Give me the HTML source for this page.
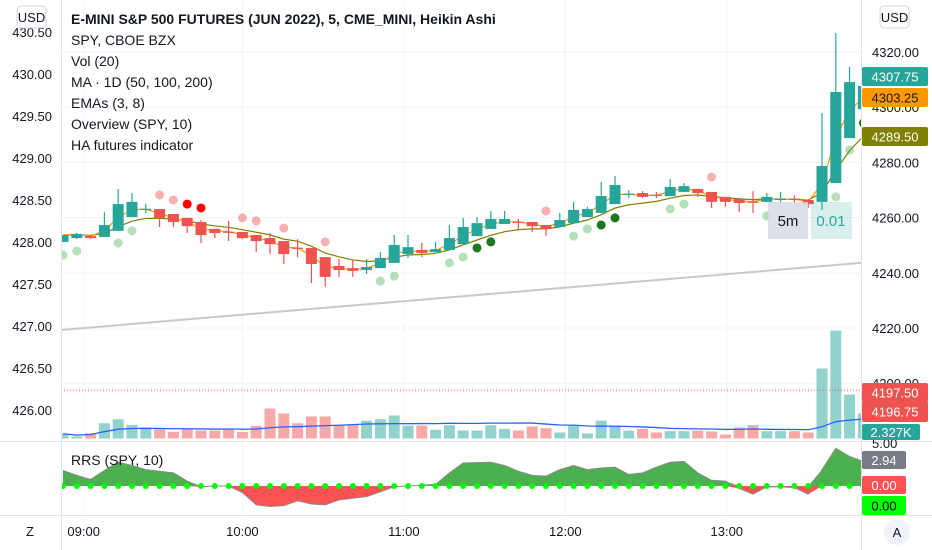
<!DOCTYPE html>
<html><head><meta charset="utf-8"><style>
html,body{margin:0;padding:0;background:#fff;width:932px;height:550px;overflow:hidden}
svg{display:block;font-family:"Liberation Sans",sans-serif}
</style></head><body>
<svg id="chart" width="932" height="550" viewBox="0 0 932 550">
<rect width="932" height="550" fill="#fff"/>
<g id="grid"></g>
<defs><clipPath id="mainclip"><rect x="61" y="0" width="800" height="441"/></clipPath>
<clipPath id="rrsclip"><rect x="61" y="442" width="800" height="73"/></clipPath></defs>
<g id="volume" clip-path="url(#mainclip)"></g>
<g id="main" clip-path="url(#mainclip)"></g>
<g id="rrs" clip-path="url(#rrsclip)"></g>
<g id="axes"></g>
</svg>
<script>
const closesLabelEma3 = "4303.25";
const closesLabelEma8 = "4289.50";
const opens  = [4251.2,4252.6,4253.3,4253.0,4255.2,4260.2,4263.0,4263.1,4261.3,4259.9,4258.4,4255.9,4254.9,4254.8,4253.7,4252.6,4251.5,4249.1,4249.0,4245.7,4242.5,4241.7,4241.0,4241.7,4243.6,4246.8,4248.3,4247.5,4248.3,4250.4,4253.3,4255.9,4257.7,4258.5,4258.4,4257.3,4256.6,4258.0,4260.2,4261.7,4264.9,4268.5,4268.9,4268.3,4267.8,4269.3,4270.4,4269.3,4267.5,4266.7,4265.8,4265.7,4266.6,4266.8,4266.4,4265.7,4272.5,4288.8,4299.3];
const highs  = [4253.7,4254.4,4253.7,4262.0,4270.4,4268.9,4264.9,4263.1,4261.3,4259.9,4259.1,4255.9,4258.8,4254.8,4253.7,4254.4,4251.5,4252.2,4249.0,4245.7,4245.0,4244.6,4245.0,4247.5,4253.7,4253.7,4250.8,4251.2,4257.3,4259.9,4260.2,4262.4,4262.4,4259.5,4258.4,4257.3,4261.7,4265.7,4263.9,4272.9,4275.1,4270.0,4269.6,4269.3,4274.0,4272.5,4270.4,4269.3,4267.5,4266.7,4269.6,4268.9,4269.3,4268.0,4266.4,4297.9,4326.9,4314.6,4309.0];
const lows   = [4251.2,4252.2,4252.2,4253.0,4255.2,4260.2,4261.7,4256.6,4256.6,4254.4,4250.8,4252.6,4251.5,4252.2,4247.5,4246.8,4243.2,4245.7,4236.3,4234.9,4238.5,4238.5,4239.6,4241.7,4243.6,4245.4,4245.7,4247.5,4248.3,4250.4,4253.3,4255.9,4257.7,4255.9,4254.8,4253.3,4256.6,4258.0,4260.2,4261.7,4264.9,4267.1,4267.1,4267.1,4267.8,4269.3,4267.5,4263.5,4263.9,4262.0,4261.7,4265.7,4264.9,4264.9,4263.5,4262.8,4272.5,4288.8,4299.3];
const closes = [4253.7,4254.1,4252.6,4257.3,4264.9,4265.7,4263.2,4259.9,4258.4,4256.9,4253.7,4254.4,4254.7,4252.6,4251.5,4250.4,4246.8,4248.9,4243.2,4238.5,4241.0,4240.7,4242.1,4245.4,4250.1,4249.3,4247.2,4248.6,4252.6,4256.6,4258.0,4259.5,4259.5,4258.3,4256.9,4255.9,4259.1,4262.8,4263.1,4267.8,4271.8,4268.7,4267.5,4268.1,4271.1,4271.4,4268.9,4265.7,4265.7,4265.3,4265.6,4267.5,4266.8,4266.6,4264.9,4278.7,4305.5,4309.1,4307.7];
const volumesK = [0.44,0.19,0.49,1.42,1.79,1.27,1.02,0.90,0.62,0.90,0.74,0.74,0.93,0.62,1.18,2.79,2.33,1.42,2.05,2.05,1.27,1.27,1.65,1.79,2.14,1.18,1.21,0.81,1.24,0.74,0.74,1.24,0.90,0.74,1.12,0.96,0.56,1.21,0.47,1.67,1.21,0.72,0.90,0.56,0.68,0.68,0.74,0.65,0.37,1.02,1.24,0.68,0.68,0.68,0.56,6.51,10.04,4.09,2.33];
const rrsValues = [1.9,1.3,0.8,1.9,2.9,2.5,2.0,1.8,1.6,0.6,-0.1,0,0,-0.8,-2.3,-2.5,-2.4,-1.8,-2.2,-2.3,-1.7,-1.5,-1.3,-0.7,-0.1,0,0.1,0.2,1.6,2.8,2.85,2.9,2.5,1.8,1.3,1.2,2.0,2.5,2.0,2.2,2.3,1.4,1.6,2.3,2.9,3.0,1.6,0.7,0.6,-0.3,-1.0,-0.1,-0.1,-0.2,-1.0,2.0,4.6,3.6,3.0];
const dotIdx   = [0,1,4,5,7,8,9,10,13,14,16,19,23,24,28,29,30,31,35,37,38,39,40,44,45,47,51,56,57,58];
const dotPrice = [4246.4,4247.9,4250.8,4255.2,4268.2,4266.4,4264.9,4263.5,4259.9,4258.8,4256.2,4251.2,4237.0,4238.8,4243.6,4245.7,4249.0,4251.2,4262.4,4253.3,4255.9,4257.3,4259.9,4263.1,4264.9,4274.7,4260.6,4267.5,4284.5,4294.3];
const dotType  = ["lg","lg","lg","lg","pk","pk","rd","rd","pk","pk","pk","pk","lg","lg","lg","lg","dg","dg","pk","lg","lg","dg","dg","lg","lg","pk","lg","lg","lg","dg"];
const maEnds = [4219.3, 4243.6];
const refLevel = 4197.5;
const rightTicks = [4320,4300,4280,4260,4240,4220,4200];
const leftTicks = ["430.50","430.00","429.50","429.00","428.50","428.00","427.50","427.00","426.50","426.00"];
const timeLabels = ["09:00","10:00","11:00","12:00","13:00"];
const timeIdx = [1.5,13.0,24.7,36.4,48.1];
const legendLines = ["SPY, CBOE BZX","Vol (20)","MA · 1D (50, 100, 200)","EMAs (3, 8)","Overview (SPY, 10)","HA futures indicator"];

const NS="http://www.w3.org/2000/svg";
function mk(parent,tag,attrs,text){const e=document.createElementNS(NS,tag);for(const k in attrs)e.setAttribute(k,attrs[k]);if(text!==undefined)e.textContent=text;parent.appendChild(e);return e;}
const X=j=>63+j*13.8;
const Y=p=>(4338.84-p)/0.3623;
const leftY=i=>32+i*42;
const VY=v=>438.5-v*10.75;
const RY=v=>486-v*8.2;
const G=document.getElementById('grid'),M=document.getElementById('main'),V=document.getElementById('volume'),R=document.getElementById('rrs'),A=document.getElementById('axes');

// grid
rightTicks.forEach(t=>{const l=mk(G,'line',{x1:61,x2:861,y1:Y(t),y2:Y(t),stroke:'#f0f3fa'});

});
timeIdx.forEach(j=>{const l=mk(G,'line',{x1:X(j),x2:X(j),y1:0,y2:515,stroke:'#f0f3fa'});

});

// volume
volumesK.forEach((v,j)=>{const up=closes[j]>=opens[j];const r=mk(V,'rect',{x:X(j)-5.5,y:VY(v),width:11,height:438.5-VY(v),fill:up?'#92d2cc':'#f7a9a7'});

});
let vma=[];volumesK.forEach((v,j)=>{const s=volumesK.slice(Math.max(0,j-19),j+1);vma.push(s.reduce((a,b)=>a+b,0)/s.length);});
const vl=mk(V,'polyline',{points:vma.map((v,j)=>X(j)+','+VY(v)).join(' '),fill:'none',stroke:'#2962ff','stroke-width':1.3});


const rl=mk(V,'line',{x1:61,x2:861,y1:Y(refLevel),y2:Y(refLevel),stroke:'#ef5350','stroke-dasharray':'1 2'});



// MA line
const ml=mk(M,'line',{x1:61,x2:861,y1:Y(maEnds[0]),y2:Y(maEnds[1]),stroke:'#c8c8c8','stroke-width':2});



// EMAs
function ema(n){const k=2/(n+1);let out=[closes[0]];for(let i=1;i<closes.length;i++)out.push(closes[i]*k+out[i-1]*(1-k));return out;}
[[8,'#808000'],[3,'#ff9800']].forEach(([n,c])=>{const e=ema(n);const p=mk(M,'polyline',{points:e.map((v,j)=>X(j)+','+Y(v)).join(' '),fill:'none',stroke:c,'stroke-width':1.2});

});

// candles
closes.forEach((c,j)=>{const o=opens[j],up=c>=o,col=up?'#26a69a':'#ef5350';const g=mk(M,'g',{});


mk(g,'line',{x1:X(j),x2:X(j),y1:Y(highs[j]),y2:Y(lows[j]),stroke:col,'stroke-width':1.2});
const t=Y(Math.max(o,c)),b=Y(Math.min(o,c));mk(g,'rect',{x:X(j)-5.5,y:t,width:11,height:Math.max(1.2,b-t),fill:col});});

// dots
const dotCol={lg:'rgba(76,175,80,0.4)',pk:'rgba(239,83,80,0.45)',rd:'#ff0000',dg:'#1b7a1b'};
dotIdx.forEach((j,i)=>{const d=mk(M,'circle',{cx:X(j),cy:Y(dotPrice[i]),r:4.5,fill:dotCol[dotType[i]]});

});

// RRS
let pts=rrsValues.map((v,j)=>[X(j),RY(v)]);
function area(sign,col){let d='M'+X(0)+','+RY(0);rrsValues.forEach((v,j)=>{const vv=sign>0?Math.max(v,0):Math.min(v,0);d+=' L'+X(j)+','+RY(vv);});d+=' L'+X(rrsValues.length-1)+','+RY(0)+' Z';const p=mk(R,'path',{d:d,fill:col});

}
area(1,'#4caf50');area(-1,'#ff5252');
const rp=mk(R,'polyline',{points:pts.map(p=>p.join(',')).join(' '),fill:'none',stroke:'#8a8a8a','stroke-width':1});


rrsValues.forEach((v,j)=>{const c=mk(R,'circle',{cx:X(j),cy:RY(0),r:3,fill:'#00ff00'});

});

// axes lines
mk(A,'line',{x1:61.5,x2:61.5,y1:0,y2:550,stroke:'#e0e3eb'});
mk(A,'line',{x1:861.5,x2:861.5,y1:0,y2:550,stroke:'#e0e3eb'});
mk(A,'line',{x1:0,x2:932,y1:441.5,y2:441.5,stroke:'#e0e3eb'});
mk(A,'line',{x1:0,x2:932,y1:515.5,y2:515.5,stroke:'#e0e3eb'});

// tick labels
leftTicks.forEach((t,i)=>{const e=mk(A,'text',{x:52,y:leftY(i)+5,'text-anchor':'end','font-size':13,fill:'#131722'},t);

});
rightTicks.forEach(t=>{const e=mk(A,'text',{x:872,y:Y(t)+5,'font-size':13,fill:'#131722'},t.toFixed(2));

});
timeLabels.forEach((t,i)=>{const e=mk(A,'text',{x:X(timeIdx[i]),y:536,'text-anchor':'middle','font-size':13,fill:'#131722'},t);

});
const t5=mk(A,'text',{x:872,y:448,'font-size':13,fill:'#131722'},'5.00');



// value labels
function box(x,y,w,h,bg,txt,fg,name){const g=mk(A,'g',{});


mk(g,'rect',{x:x,y:y,width:w,height:h,rx:2,fill:bg});mk(g,'text',{x:x+w/2,y:y+h/2+5,'text-anchor':'middle','font-size':13,fill:fg},txt);return g;}
box(862,67,66,19,'#26a69a',closes[closes.length-1].toFixed(2).replace('4307.70','4307.75'),'#fff','last-price-label');
box(862,88,66,19,'#ff9800',closesLabelEma3,'#131722','ema3-label');
box(862,127,66,19,'#808000',closesLabelEma8,'#fff','ema8-label');
box(862,383,66,19,'#ef5350','4197.50','#fff','spy-price-label');
box(862,401,66,21,'#ef5350','4196.75','#fff','spy-last-label');
box(862,424,58,16,'#26a69a','2.327K','#fff','volume-label');
box(862,451,44,18,'#787b86','2.94','#fff','rrs-value-label');
box(862,476,44,18,'#ff5252','0.00','#fff','rrs-zero-label');
box(862,496,44,19,'#00ff00','0.00','#000','rrs-dot-label');

// 5m / 0.01 boxes
const b1=mk(A,'g',{});


mk(b1,'rect',{x:768,y:202,width:40,height:37,fill:'rgba(214,218,228,0.85)'});mk(b1,'text',{x:788,y:226,'text-anchor':'middle','font-size':15,fill:'#131722'},'5m');
const b2=mk(A,'g',{});


mk(b2,'rect',{x:811,y:202,width:41,height:37,fill:'rgba(38,166,154,0.18)'});mk(b2,'text',{x:831,y:226,'text-anchor':'middle','font-size':15,fill:'#26a69a'},'0.01');

// USD buttons
[[17,'usd-left-button'],[880,'usd-right-button']].forEach(([x,n])=>{const g=mk(A,'g',{});


mk(g,'rect',{x:x,y:6,width:29,height:22,rx:4,fill:'#fff',stroke:'#d1d4dc'});mk(g,'text',{x:x+14.5,y:22,'text-anchor':'middle','font-size':13,fill:'#131722'},'USD');});

// legend
const lg=mk(A,'g',{});


mk(lg,'text',{x:71,y:24,'font-size':14,'font-weight':'bold',fill:'#131722'},'E-MINI S&P 500 FUTURES (JUN 2022), 5, CME_MINI, Heikin Ashi');
legendLines.forEach((t,i)=>{const e=mk(lg,'text',{x:71,y:45+i*21,'font-size':14,fill:'#131722'},t);

});
const rr=mk(A,'text',{x:71,y:465,'font-size':14,fill:'#131722'},'RRS (SPY, 10)');



// corner buttons
const z=mk(A,'text',{x:30,y:536,'text-anchor':'middle','font-size':13,fill:'#131722'},'Z');


const ag=mk(A,'g',{});


mk(ag,'circle',{cx:897,cy:532,r:13,fill:'#f0f3fa'});mk(ag,'text',{x:897,y:537,'text-anchor':'middle','font-size':13,fill:'#131722'},'A');
</script>
</body></html>
